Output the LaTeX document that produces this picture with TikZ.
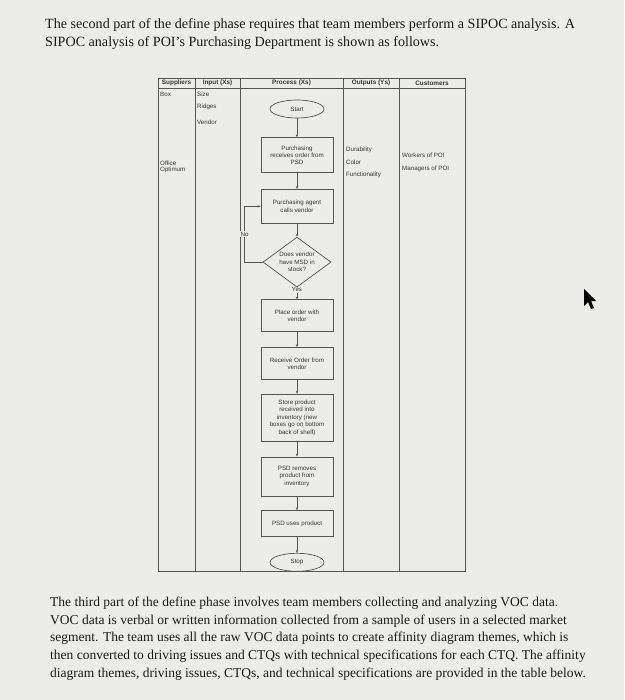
\documentclass[tikz,border=0pt]{standalone}
\usepackage{fontspec}
\setmainfont{Liberation Serif}
\setsansfont{Liberation Sans}
\usetikzlibrary{arrows.meta, positioning, shapes.geometric, calc}

\definecolor{paper}{RGB}{236,236,233}
\definecolor{ink}{RGB}{55,55,55}
\definecolor{rule}{RGB}{85,85,85}

\begin{document}
\begin{tikzpicture}[
    x=1pt, y=-1pt,
    every node/.style={font=\sffamily\fontsize{6.2}{7.4}\selectfont, text=ink},
    procbox/.style={draw=rule, line width=0.7pt, minimum width=72pt, minimum height=#1, align=center, inner sep=1pt},
    term/.style={draw=rule, ellipse, line width=0.7pt, minimum width=54pt, minimum height=18pt, inner sep=0pt},
    decide/.style={draw=rule, diamond, line width=0.7pt, minimum width=68pt, minimum height=50pt, aspect=1.36, align=center, inner sep=0pt},
    arr/.style={-{Stealth[length=3pt, width=2.4pt]}, rule, line width=0.7pt},
    lane/.style={rule, line width=0.9pt},
    head/.style={font=\sffamily\bfseries\fontsize{6.4}{7.4}\selectfont},
    cell/.style={anchor=west, inner sep=0pt},
    para/.style={text=black!90, align=left, anchor=north west, inner sep=0pt},
]
    \useasboundingbox[fill=paper] (0,0) rectangle (624,700);

    % Text above and below the table
    \node[para, font=\fontsize{14.1}{18}\selectfont] (intro) at (45,18) {The second part of the define phase requires that team members perform a SIPOC analysis. A\\
        SIPOC analysis of POI’s Purchasing Department is shown as follows.};
    \node[para, font=\fontsize{13.5}{17.6}\selectfont] (voc) at (50,597) {The third part of the define phase involves team members collecting and analyzing VOC data.\\
        VOC data is verbal or written information collected from a sample of users in a selected market\\
        segment. The team uses all the raw VOC data points to create affinity diagram themes, which is\\
        then converted to driving issues and CTQs with technical specifications for each CTQ. The affinity\\
        diagram themes, driving issues, CTQs, and technical specifications are provided in the table below.};

    % SIPOC table frame
    \draw[lane] (158,78) rectangle (465,571);
    \draw[lane] (158,88) -- (465,88);
    \foreach \xl in {195,240,343,399}
        \draw[lane] (\xl,78) -- (\xl,571);

    % Header
    \node[head] (hs) at (176.5,83) {Suppliers};
    \node[head] (hi) at (217.5,83) {Input (Xs)};
    \node[head] (hp) at (291.5,83) {Process (Xs)};
    \node[head] (ho) at (371,83) {Outputs (Ys)};
    \node[head] (hc) at (432,83) {Customers};

    % Suppliers
    \node[cell] (box) at (160,94) {Box};
    \node[cell] (office) at (160,163) {Office};
    \node[cell] (optimum) at (160,170) {Optimum};

    % Inputs
    \node[cell] (size) at (197,94) {Size};
    \node[cell] (ridges) at (197,107) {Ridges};
    \node[cell] (vendor) at (197,122) {Vendor};

    % Outputs
    \node[cell] (dur) at (346,150) {Durability};
    \node[cell] (color) at (346,162) {Color};
    \node[cell] (func) at (346,175) {Functionality};

    % Customers
    \node[cell] (workers) at (402,155) {Workers of POI};
    \node[cell] (managers) at (402,169) {Managers of POI};

    % Process flow
    \node[term] (start) at (297,109) {Start};
    \node[procbox=35pt, below=19pt of start] (recv) {Purchasing\\receives order from\\PSD};
    \node[procbox=34pt, below=16pt of recv] (agent) {Purchasing agent\\calls vendor};
    \node[decide, below=13pt of agent] (ask) {Does vendor\\have MSD in\\stock?};
    \node[procbox=32pt, below=12pt of ask] (place) {Place order with\\vendor};
    \node[procbox=32pt, below=15pt of place] (recvorder) {Receive Order from\\vendor};
    \node[procbox=47pt, below=14pt of recvorder] (store) {Store product\\received into\\inventory (new\\boxes go on bottom\\back of shelf)};
    \node[procbox=39pt, below=15pt of store] (remove) {PSD removes\\product from\\inventory};
    \node[procbox=26pt, below=14pt of remove] (uses) {PSD uses product};
    \node[term, below=16pt of uses] (stop) {Stop};

    \draw[arr] (start) -- (recv);
    \draw[arr] (recv) -- (agent);
    \draw[arr] (agent) -- (ask);
    \draw[arr] (ask) -- node[pos=0.2, fill=paper, inner sep=0.6pt] {Yes} (place);
    \draw[arr] (ask.west) -- ++(-18,0) |- node[pos=0.25, fill=paper, inner sep=0.6pt] {No} (agent.west);
    \draw[arr] (place) -- (recvorder);
    \draw[arr] (recvorder) -- (store);
    \draw[arr] (store) -- (remove);
    \draw[arr] (remove) -- (uses);
    \draw[arr] (uses) -- (stop);

    % Mouse pointer
    \fill[black] (584,289) -- (584,306) -- (588,302) -- (591,309) -- (594,308) -- (591,301) -- (596,301) -- cycle;
\end{tikzpicture}
\end{document}
